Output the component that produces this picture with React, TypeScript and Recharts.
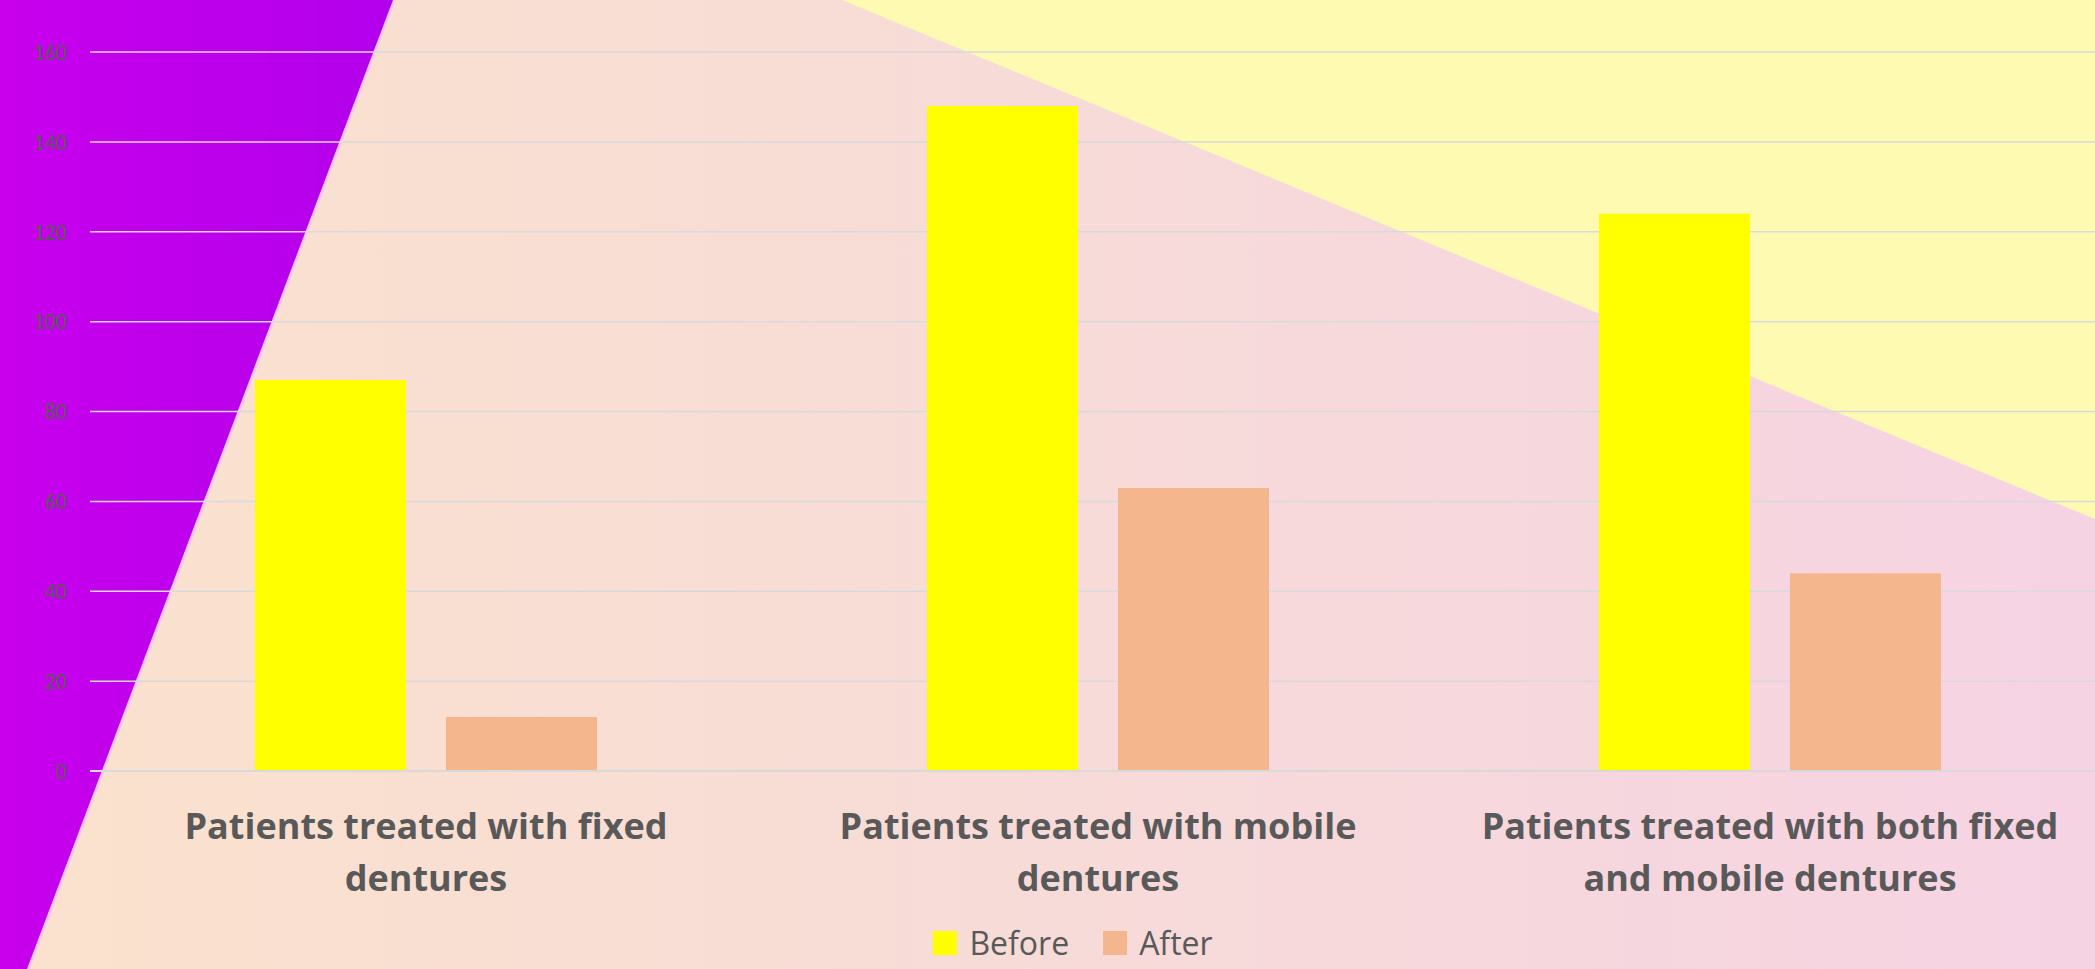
import React from 'react';
import { Bar, BarChart, CartesianGrid, Legend, XAxis, YAxis } from 'recharts';

const categories = [
  'Patients treated with fixed dentures',
  'Patients treated with mobile dentures',
  'Patients treated with both fixed and mobile dentures',
];
const beforeValues = [87, 148, 124];
const afterValues = [12, 63, 44];
const yTicks = [0, 20, 40, 60, 80, 100, 120, 140, 160];
const seriesNames = ['Before', 'After'];
const seriesColors = ['#ffff00', '#f4b68c'];

const data = categories.map((name, i) => ({
  name,
  before: beforeValues[i],
  after: afterValues[i],
}));

const labelFont = '"Comic Sans MS", "Open Sans", sans-serif';

// split a label into lines of at most maxChars characters
const wrap = (text: string, maxChars: number) => {
  const lines: string[] = [];
  let line = '';
  text.split(' ').forEach((word) => {
    const next = line ? `${line} ${word}` : word;
    if (next.length > maxChars && line) {
      lines.push(line);
      line = word;
    } else {
      line = next;
    }
  });
  if (line) lines.push(line);
  return lines;
};

const CategoryTick = (props: any) => {
  const { x, y, payload } = props;
  const lines = wrap(String(payload.value), 32);
  return (
    <text
      x={x}
      y={y}
      textAnchor="middle"
      fill="#595959"
      fontFamily={labelFont}
      fontWeight={700}
      fontSize={36}
    >
      {lines.map((l, i) => (
        <tspan key={i} x={x} y={y + 60 + i * 52}>
          {l}
        </tspan>
      ))}
    </text>
  );
};

const LegendContent = () => (
  <div
    style={{
      height: 58,
      display: 'flex',
      justifyContent: 'center',
      alignItems: 'flex-end',
      fontFamily: labelFont,
      fontSize: 32,
      color: '#595959',
      lineHeight: '40px',
      paddingLeft: 40,
      paddingBottom: 6,
      boxSizing: 'border-box',
    }}
  >
    {seriesNames.map((n, i) => (
      <div key={n} style={{ display: 'flex', alignItems: 'center', marginRight: i === 0 ? 34 : 0 }}>
        <span
          style={{
            width: 24,
            height: 24,
            background: seriesColors[i],
            display: 'inline-block',
            marginRight: 12,
          }}
        />
        <span>{n}</span>
      </div>
    ))}
  </div>
);

export default function App() {
  return (
    <div
      style={{
        position: 'fixed',
        top: 0,
        left: 0,
        width: 2095,
        height: 969,
        overflow: 'hidden',
        background: 'linear-gradient(90deg, #fbe2cd 0%, #f7dbd8 50%, #f6d3e3 100%)',
      }}
    >
      <div
        style={{
          position: 'absolute',
          inset: 0,
          background: '#fffab2',
          clipPath: 'polygon(842px 0, 2095px 0, 2095px 519px)',
        }}
      />
      <div
        style={{
          position: 'absolute',
          inset: 0,
          background: '#f6c8f0',
          clipPath: 'polygon(0 0, 396px 0, 30px 969px, 0 969px)',
          width: 400,
        }}
      />
      <div
        style={{
          position: 'absolute',
          inset: 0,
          background: 'linear-gradient(90deg, #c800ec 0%, #b200ec 100%)',
          clipPath: 'polygon(0 0, 393px 0, 27px 969px, 0 969px)',
          width: 400,
        }}
      />
      <div style={{ position: 'absolute', top: 0, left: 0 }}>
        <BarChart
          width={2106}
          height={969}
          data={data}
          margin={{ top: 52, right: 0, left: 0, bottom: 0 }}
          barSize={151}
          barGap={40}
        >
          <CartesianGrid vertical={false} stroke="#d9d9d9" strokeWidth={1.5} />
          <XAxis
            dataKey="name"
            height={140}
            tickLine={false}
            axisLine={{ stroke: '#d9d9d9', strokeWidth: 2 }}
            tick={<CategoryTick />}
            interval={0}
          />
          <YAxis
            width={90}
            domain={[0, 160]}
            ticks={yTicks}
            tickLine={false}
            axisLine={false}
            tickSize={0}
            tickMargin={23}
            tick={{ fill: '#595959', fontSize: 22, fontFamily: 'Carlito, "Open Sans", sans-serif' }}
          />
          <Legend verticalAlign="bottom" content={<LegendContent />} />
          <Bar dataKey="before" name={seriesNames[0]} fill={seriesColors[0]} isAnimationActive={false} />
          <Bar dataKey="after" name={seriesNames[1]} fill={seriesColors[1]} isAnimationActive={false} />
        </BarChart>
      </div>
    </div>
  );
}
